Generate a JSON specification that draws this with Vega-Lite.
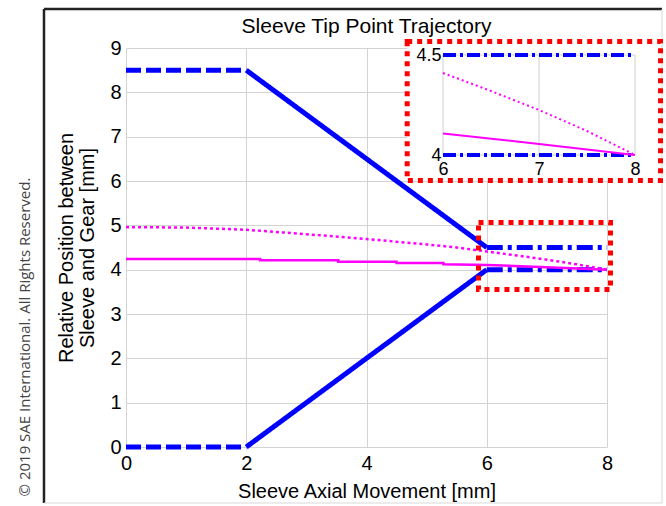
{
  "$schema": "https://vega.github.io/schema/vega-lite/v6.json",
  "width": 481,
  "height": 399,
  "autosize": {"type": "none"},
  "padding": {"left": 126, "top": 48, "right": 59, "bottom": 59},
  "background": "white",
  "config": {"view": {"stroke": null}, "font": "Liberation Sans"},
  "datasets": {
    "note": [{"text": "© 2019 SAE International. All Rights Reserved.", "title": "Sleeve Tip Point Trajectory"}],
    "blue": [
      {"line": "upper", "phase": "dashed", "x": 0, "y": 8.5},
      {"line": "upper", "phase": "dashed", "x": 2, "y": 8.5},
      {"line": "upper", "phase": "solid", "x": 2, "y": 8.5},
      {"line": "upper", "phase": "solid", "x": 6, "y": 4.5},
      {"line": "upper", "phase": "dashdot", "x": 6, "y": 4.5},
      {"line": "upper", "phase": "dashdot", "x": 8, "y": 4.5},
      {"line": "lower", "phase": "dashed", "x": 0, "y": 0},
      {"line": "lower", "phase": "dashed", "x": 2, "y": 0},
      {"line": "lower", "phase": "solid", "x": 2, "y": 0},
      {"line": "lower", "phase": "solid", "x": 6, "y": 4},
      {"line": "lower", "phase": "dashdot", "x": 6, "y": 4},
      {"line": "lower", "phase": "dashdot", "x": 8, "y": 4}
    ],
    "magenta": [
      {"line": "dotted", "i": 0, "x": 0, "y": 4.96},
      {"line": "dotted", "i": 1, "x": 1, "y": 4.95},
      {"line": "dotted", "i": 2, "x": 2, "y": 4.9},
      {"line": "dotted", "i": 3, "x": 3, "y": 4.8},
      {"line": "dotted", "i": 4, "x": 4, "y": 4.69},
      {"line": "dotted", "i": 5, "x": 5, "y": 4.57},
      {"line": "dotted", "i": 6, "x": 5.5, "y": 4.5},
      {"line": "dotted", "i": 7, "x": 6, "y": 4.41},
      {"line": "dotted", "i": 8, "x": 6.5, "y": 4.32},
      {"line": "dotted", "i": 9, "x": 7, "y": 4.225},
      {"line": "dotted", "i": 10, "x": 7.5, "y": 4.12},
      {"line": "dotted", "i": 11, "x": 8, "y": 4.0},
      {"line": "solid", "i": 0, "x": 0, "y": 4.24},
      {"line": "solid", "i": 1, "x": 2.23, "y": 4.24},
      {"line": "solid", "i": 2, "x": 2.23, "y": 4.21},
      {"line": "solid", "i": 3, "x": 3.53, "y": 4.21},
      {"line": "solid", "i": 4, "x": 3.53, "y": 4.18},
      {"line": "solid", "i": 5, "x": 4.5, "y": 4.18},
      {"line": "solid", "i": 6, "x": 4.5, "y": 4.15},
      {"line": "solid", "i": 7, "x": 5.28, "y": 4.15},
      {"line": "solid", "i": 8, "x": 5.28, "y": 4.12},
      {"line": "solid", "i": 9, "x": 6, "y": 4.108},
      {"line": "solid", "i": 10, "x": 7, "y": 4.055},
      {"line": "solid", "i": 11, "x": 8, "y": 4.0}
    ]
  },
  "resolve": {"scale": {"x": "independent", "y": "independent"}, "axis": {"x": "independent", "y": "independent"}},
  "layer": [
    {
      "layer": [
        {"data": {"name": "blue"}, "mark": {"type": "line", "color": "#0000ff", "strokeWidth": 5},
          "encoding": {
            "x": {"field": "x", "type": "quantitative", "scale": {"domain": [0, 8], "nice": false, "zero": false},
              "axis": {"orient": "bottom", "title": "Sleeve Axial Movement [mm]", "values": [0, 2, 4, 6, 8], "labelExpr": "datum.value", "grid": true, "gridColor": "#d3d3d3", "domain": false, "ticks": false, "labelFlush": false, "labelFontSize": 20, "labelColor": "black", "labelPadding": 6, "labelFont": "Liberation Sans", "titleFont": "Liberation Sans", "titleFontSize": 20, "titleFontWeight": "normal", "titleColor": "black", "titlePadding": 8, "zindex": 0}},
            "y": {"field": "y", "type": "quantitative", "scale": {"domain": [0, 9], "nice": false, "zero": false},
              "axis": {"orient": "left", "title": ["Relative Position between", "Sleeve and Gear [mm]"], "values": [0, 1, 2, 3, 4, 5, 6, 7, 8, 9], "labelExpr": "datum.value", "grid": true, "gridColor": "#d3d3d3", "domain": false, "ticks": false, "labelFlush": false, "labelFontSize": 20, "labelColor": "black", "labelPadding": 5, "labelFont": "Liberation Sans", "titleFont": "Liberation Sans", "titleFontSize": 20, "titleFontWeight": "normal", "titleColor": "black", "titlePadding": 12, "titleLineHeight": 21, "zindex": 0}},
            "detail": {"field": "line"},
            "strokeDash": {"field": "phase", "type": "nominal", "scale": {"domain": ["dashed", "solid", "dashdot"], "range": [[15, 5], [1, 0], [16, 5, 4, 5]]}, "legend": null}}},
        {"data": {"name": "note"}, "mark": {"type": "rule", "color": "#222222", "strokeWidth": 2.5},
          "encoding": {
            "x": {"datum": -1.364, "type": "quantitative"},
            "y": {"datum": -1.263, "type": "quantitative"},
            "y2": {"datum": 9.88}}},
        {"data": {"name": "note"}, "mark": {"type": "rule", "color": "#222222", "strokeWidth": 2.5},
          "encoding": {
            "x": {"datum": -1.364, "type": "quantitative"},
            "x2": {"datum": 8.915},
            "y": {"datum": 9.88, "type": "quantitative"}}},
        {"data": {"name": "note"}, "mark": {"type": "rule", "color": "#d8d8d8", "strokeWidth": 1},
          "encoding": {
            "x": {"datum": 8.915, "type": "quantitative"},
            "y": {"datum": -1.263, "type": "quantitative"},
            "y2": {"datum": 9.88}}},
        {"data": {"name": "note"}, "mark": {"type": "rule", "color": "#d8d8d8", "strokeWidth": 1},
          "encoding": {
            "x": {"datum": -1.364, "type": "quantitative"},
            "x2": {"datum": 8.915},
            "y": {"datum": -1.263, "type": "quantitative"}}},
        {"data": {"name": "note"}, "mark": {"type": "text", "angle": 270, "font": "Open Sans", "fontSize": 15, "color": "#444444", "align": "center", "baseline": "middle"},
          "encoding": {
            "x": {"datum": -1.68, "type": "quantitative"},
            "y": {"datum": 2.48, "type": "quantitative"},
            "text": {"field": "text"}}},
        {"data": {"name": "note"}, "mark": {"type": "text", "font": "Liberation Sans", "fontSize": 21, "color": "black", "align": "center", "baseline": "alphabetic"},
          "encoding": {
            "x": {"datum": 4, "type": "quantitative"},
            "y": {"datum": 9.339, "type": "quantitative"},
            "text": {"field": "title"}}},
        {"data": {"name": "magenta"}, "transform": [{"filter": "datum.line === 'dotted'"}], "mark": {"type": "line", "color": "#ff00ff", "strokeWidth": 2.5, "strokeDash": [3, 3]},
          "encoding": {
            "x": {"field": "x", "type": "quantitative"},
            "y": {"field": "y", "type": "quantitative"},
            "order": {"field": "i", "type": "quantitative"}}},
        {"data": {"name": "magenta"}, "transform": [{"filter": "datum.line === 'solid'"}], "mark": {"type": "line", "color": "#ff00ff", "strokeWidth": 2.5},
          "encoding": {
            "x": {"field": "x", "type": "quantitative"},
            "y": {"field": "y", "type": "quantitative"},
            "order": {"field": "i", "type": "quantitative"}}},
        {"data": {"name": "note"}, "mark": {"type": "rect", "fill": "transparent", "stroke": "#ff0000", "strokeWidth": 5, "strokeDash": [5, 5]},
          "encoding": {
            "x": {"datum": 5.863, "type": "quantitative"},
            "x2": {"datum": 8.058},
            "y": {"datum": 5.064, "type": "quantitative"},
            "y2": {"datum": 3.553}}}
      ]
    },
    {
      "layer": [
        {"data": {"name": "note"}, "mark": {"type": "rect", "fill": "white", "stroke": "#ff0000", "strokeWidth": 5, "strokeDash": [5, 5]},
          "encoding": {
            "x": {"datum": 5.627, "type": "quantitative", "scale": {"domain": [6, 8], "range": [317, 509], "nice": false, "zero": false},
              "axis": {"orient": "bottom", "offset": -292, "title": null, "values": [6, 7, 8], "labelExpr": "datum.value", "labelFlush": false, "grid": false, "domain": false, "ticks": false, "labelFontSize": 18, "labelColor": "black", "labelPadding": 5, "labelFont": "Liberation Sans", "zindex": 2}},
            "x2": {"datum": 8.266},
            "y": {"datum": 4.5675, "type": "quantitative", "scale": {"domain": [4, 4.5], "range": [107, 7], "nice": false, "zero": false},
              "axis": {"orient": "left", "offset": -317, "title": null, "values": [4, 4.5], "labelExpr": "datum.value", "labelFlush": false, "grid": false, "domain": false, "ticks": false, "labelFontSize": 18, "labelColor": "black", "labelPadding": 2, "labelFont": "Liberation Sans", "zindex": 2}},
            "y2": {"datum": 3.8725}}},
        {"data": {"name": "note"}, "mark": {"type": "rect", "fill": "transparent", "stroke": "#d0d0d0", "strokeWidth": 1},
          "encoding": {
            "x": {"datum": 6, "type": "quantitative"},
            "x2": {"datum": 8},
            "y": {"datum": 4.5, "type": "quantitative"},
            "y2": {"datum": 4}}},
        {"data": {"name": "note"}, "mark": {"type": "rule", "color": "#d0d0d0", "strokeWidth": 1},
          "encoding": {
            "x": {"datum": 7, "type": "quantitative"},
            "y": {"datum": 4, "type": "quantitative"},
            "y2": {"datum": 4.5}}},
        {"data": {"name": "blue"}, "transform": [{"filter": "datum.phase === 'dashdot'"}], "mark": {"type": "line", "color": "#0000ff", "strokeWidth": 4, "strokeDash": [13, 4, 3, 4]},
          "encoding": {
            "x": {"field": "x", "type": "quantitative"},
            "y": {"field": "y", "type": "quantitative"},
            "detail": {"field": "line"}}},
        {"data": {"name": "magenta"}, "transform": [{"filter": "datum.line === 'dotted' && datum.x >= 6"}], "mark": {"type": "line", "color": "#ff00ff", "strokeWidth": 2, "strokeDash": [2, 3]},
          "encoding": {
            "x": {"field": "x", "type": "quantitative"},
            "y": {"field": "y", "type": "quantitative"},
            "order": {"field": "i", "type": "quantitative"}}},
        {"data": {"name": "magenta"}, "transform": [{"filter": "datum.line === 'solid' && datum.x >= 6"}], "mark": {"type": "line", "color": "#ff00ff", "strokeWidth": 2},
          "encoding": {
            "x": {"field": "x", "type": "quantitative"},
            "y": {"field": "y", "type": "quantitative"},
            "order": {"field": "i", "type": "quantitative"}}}
      ]
    }
  ]
}
